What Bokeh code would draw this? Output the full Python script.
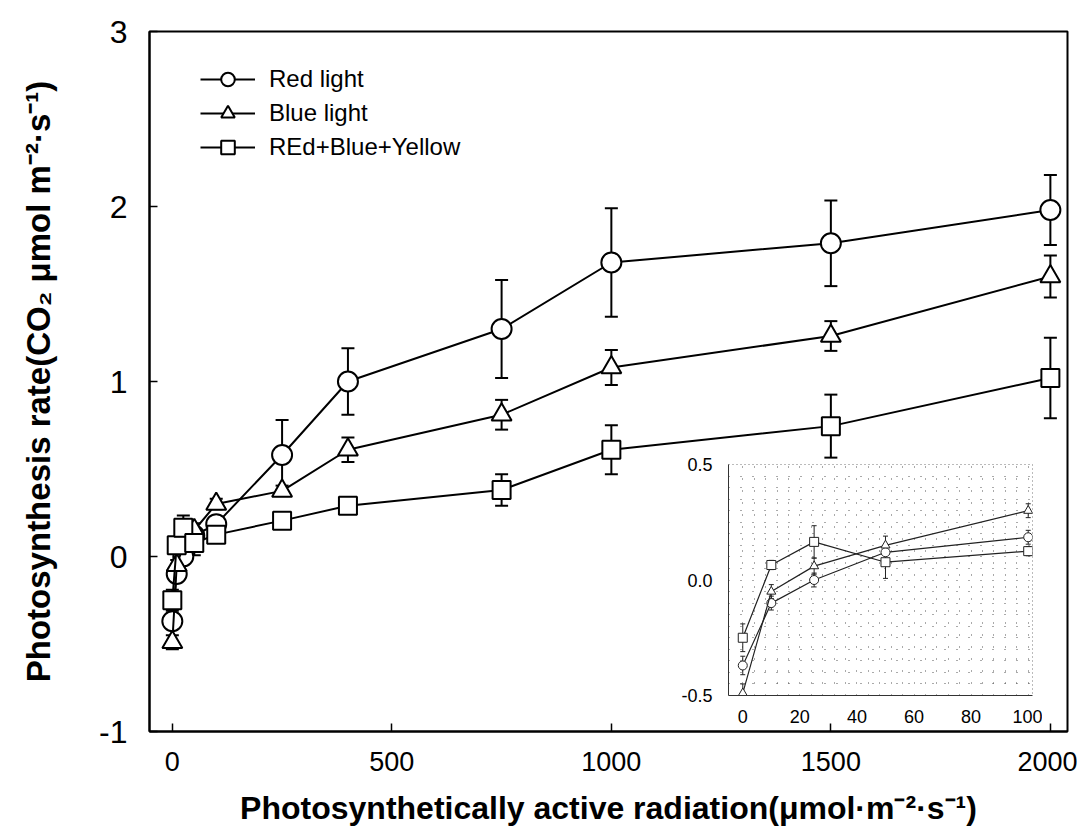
from bokeh.plotting import figure
from bokeh.models import (ColumnDataSource, Whisker, TeeHead, Range1d, FixedTicker,
                          Legend, LegendItem, PrintfTickFormatter)
from bokeh.layouts import column
from bokeh.embed import file_html
from bokeh.resources import INLINE

# ---------------- data ----------------
par = [0, 10, 25, 50, 100, 250, 400, 750, 1000, 1500, 2000]
red = [-0.37, -0.10, 0.00, 0.12, 0.185, 0.58, 1.00, 1.30, 1.68, 1.79, 1.98]
red_err = [0.04, 0.03, 0.03, 0.03, 0.03, 0.20, 0.19, 0.28, 0.31, 0.245, 0.20]
blue = [-0.49, -0.05, 0.06, 0.15, 0.30, 0.375, 0.61, 0.81, 1.08, 1.26, 1.60]
blue_err = [0.04, 0.03, 0.035, 0.04, 0.03, 0.03, 0.07, 0.085, 0.10, 0.085, 0.12]
rby = [-0.25, 0.065, 0.165, 0.077, 0.125, 0.205, 0.29, 0.38, 0.61, 0.745, 1.02]
rby_err = [0.06, 0.02, 0.07, 0.07, 0.02, 0.03, 0.04, 0.09, 0.14, 0.18, 0.23]

series_names = ["Red light", "Blue light", "REd+Blue+Yellow"]
series_markers = ["circle", "triangle", "square"]

x_ticks = [0, 500, 1000, 1500, 2000]
y_ticks = [-1, 0, 1, 2, 3]
inset_x_ticks = [0, 20, 40, 60, 80, 100]
inset_y_ticks = [-0.5, 0.0, 0.5]
inset_max_par = 100

FONT = "Liberation Sans"
BORDER_L = 149
BORDER_R = 10

series = [(red, red_err), (blue, blue_err), (rby, rby_err)]

# ---------------- main figure ----------------
p = figure(width=1077, height=828, x_range=Range1d(-52, 2039), y_range=Range1d(-1, 3),
           output_backend="svg", toolbar_location=None,
           min_border_left=BORDER_L, min_border_right=BORDER_R,
           min_border_top=31, min_border_bottom=93)
p.grid.visible = False
p.outline_line_color = "black"
p.outline_line_width = 2
p.background_fill_color = "white"

for ax in (p.xaxis[0], p.yaxis[0]):
    ax.axis_line_width = 2
    ax.major_tick_in = 8
    ax.major_tick_out = 0
    ax.major_tick_line_width = 1.5
    ax.minor_tick_line_color = None
    ax.major_label_text_font = FONT
    ax.axis_label_text_font = FONT
    ax.axis_label_text_font_style = "bold"
    ax.axis_label_text_color = "black"
    ax.major_label_text_color = "black"

p.xaxis.ticker = FixedTicker(ticks=x_ticks)
p.yaxis.ticker = FixedTicker(ticks=y_ticks)
p.yaxis.formatter = PrintfTickFormatter(format="%d")
p.xaxis.major_label_text_font_size = "27px"
p.yaxis.major_label_text_font_size = "32px"
p.xaxis.major_label_standoff = 20
p.yaxis.major_label_standoff = 22
p.xaxis.axis_label = "Photosynthetically active radiation(μmol·m⁻²·s⁻¹)"
p.yaxis.axis_label = "Photosynthesis rate(CO₂ μmol m⁻²·s⁻¹)"
p.xaxis.axis_label_text_font_size = "32px"
p.yaxis.axis_label_text_font_size = "33px"
p.xaxis.axis_label_standoff = 16
p.yaxis.axis_label_standoff = 39

items = []
for (vals, errs), name, mk in zip(series, series_names, series_markers):
    src = ColumnDataSource(dict(x=par, y=vals,
                                up=[v + e for v, e in zip(vals, errs)],
                                lo=[v - e for v, e in zip(vals, errs)]))
    w = Whisker(base="x", upper="up", lower="lo", source=src, line_width=2, line_color="black",
                upper_head=TeeHead(size=13, line_width=2, line_color="black"),
                lower_head=TeeHead(size=13, line_width=2, line_color="black"))
    p.add_layout(w)
    ln = p.line("x", "y", source=src, line_width=2, line_color="black")
    sz = 20 if mk != "square" else 18
    sc = p.scatter("x", "y", source=src, marker=mk, size=sz, fill_color="white",
                   line_color="black", line_width=2)
    items.append(LegendItem(label=name, renderers=[ln, sc]))

legend = Legend(items=items, location=(51, 567), padding=0, margin=0, spacing=0,
                glyph_width=55, glyph_height=34, label_height=34, label_standoff=14,
                label_text_font=FONT, label_text_font_size="24px", label_text_color="black",
                border_line_alpha=0, background_fill_alpha=0)
p.add_layout(legend)

# ---------------- inset figure ----------------
n_in = sum(1 for v in par if v <= inset_max_par)
inset = figure(width=BORDER_L + 304 + BORDER_R, height=276,
               x_range=Range1d(-5, 101.5), y_range=Range1d(-0.5, 0.5),
               output_backend="svg", toolbar_location=None,
               min_border_left=BORDER_L, min_border_right=BORDER_R,
               min_border_top=10, min_border_bottom=35,
               margin=(-374, 0, 0, 728 - BORDER_L))
inset.border_fill_alpha = 0
inset.background_fill_color = "white"
inset.outline_line_color = "#777777"
inset.outline_line_dash = "1 3"
inset.outline_line_width = 1

inset.xgrid.ticker = FixedTicker(ticks=list(range(0, 101, 4)))
inset.ygrid.ticker = FixedTicker(ticks=[round(-0.5 + 0.05 * i, 2) for i in range(21)])
for g in (inset.xgrid[0], inset.ygrid[0]):
    g.grid_line_color = "#555555"
    g.grid_line_dash = "1 11"
    g.grid_line_width = 1

for ax in (inset.xaxis[0], inset.yaxis[0]):
    ax.axis_line_width = 1
    ax.axis_line_color = "#333333"
    ax.major_tick_in = 0
    ax.major_tick_out = 0
    ax.minor_tick_line_color = None
    ax.major_label_text_font = FONT
    ax.major_label_text_font_size = "18px"
    ax.major_label_text_color = "black"
inset.xaxis.ticker = FixedTicker(ticks=inset_x_ticks)
inset.yaxis.ticker = FixedTicker(ticks=inset_y_ticks)
inset.yaxis.formatter = PrintfTickFormatter(format="%.1f")
inset.xaxis.major_label_standoff = 14
inset.yaxis.major_label_standoff = 16

for (vals, errs), mk in zip(series, series_markers):
    xs = par[:n_in]
    ys = vals[:n_in]
    es = errs[:n_in]
    src = ColumnDataSource(dict(x=xs, y=ys,
                                up=[v + e for v, e in zip(ys, es)],
                                lo=[v - e for v, e in zip(ys, es)]))
    w = Whisker(base="x", upper="up", lower="lo", source=src, line_width=1, line_color="#222222",
                upper_head=TeeHead(size=5, line_width=1, line_color="#222222"),
                lower_head=TeeHead(size=5, line_width=1, line_color="#222222"))
    inset.add_layout(w)
    inset.line("x", "y", source=src, line_width=1.2, line_color="#222222")
    inset.scatter("x", "y", source=src, marker=mk, size=9, fill_color="white",
                  line_color="#222222", line_width=1)

layout = column(p, inset, spacing=0)
open("out.html", "w").write(file_html(layout, INLINE))
